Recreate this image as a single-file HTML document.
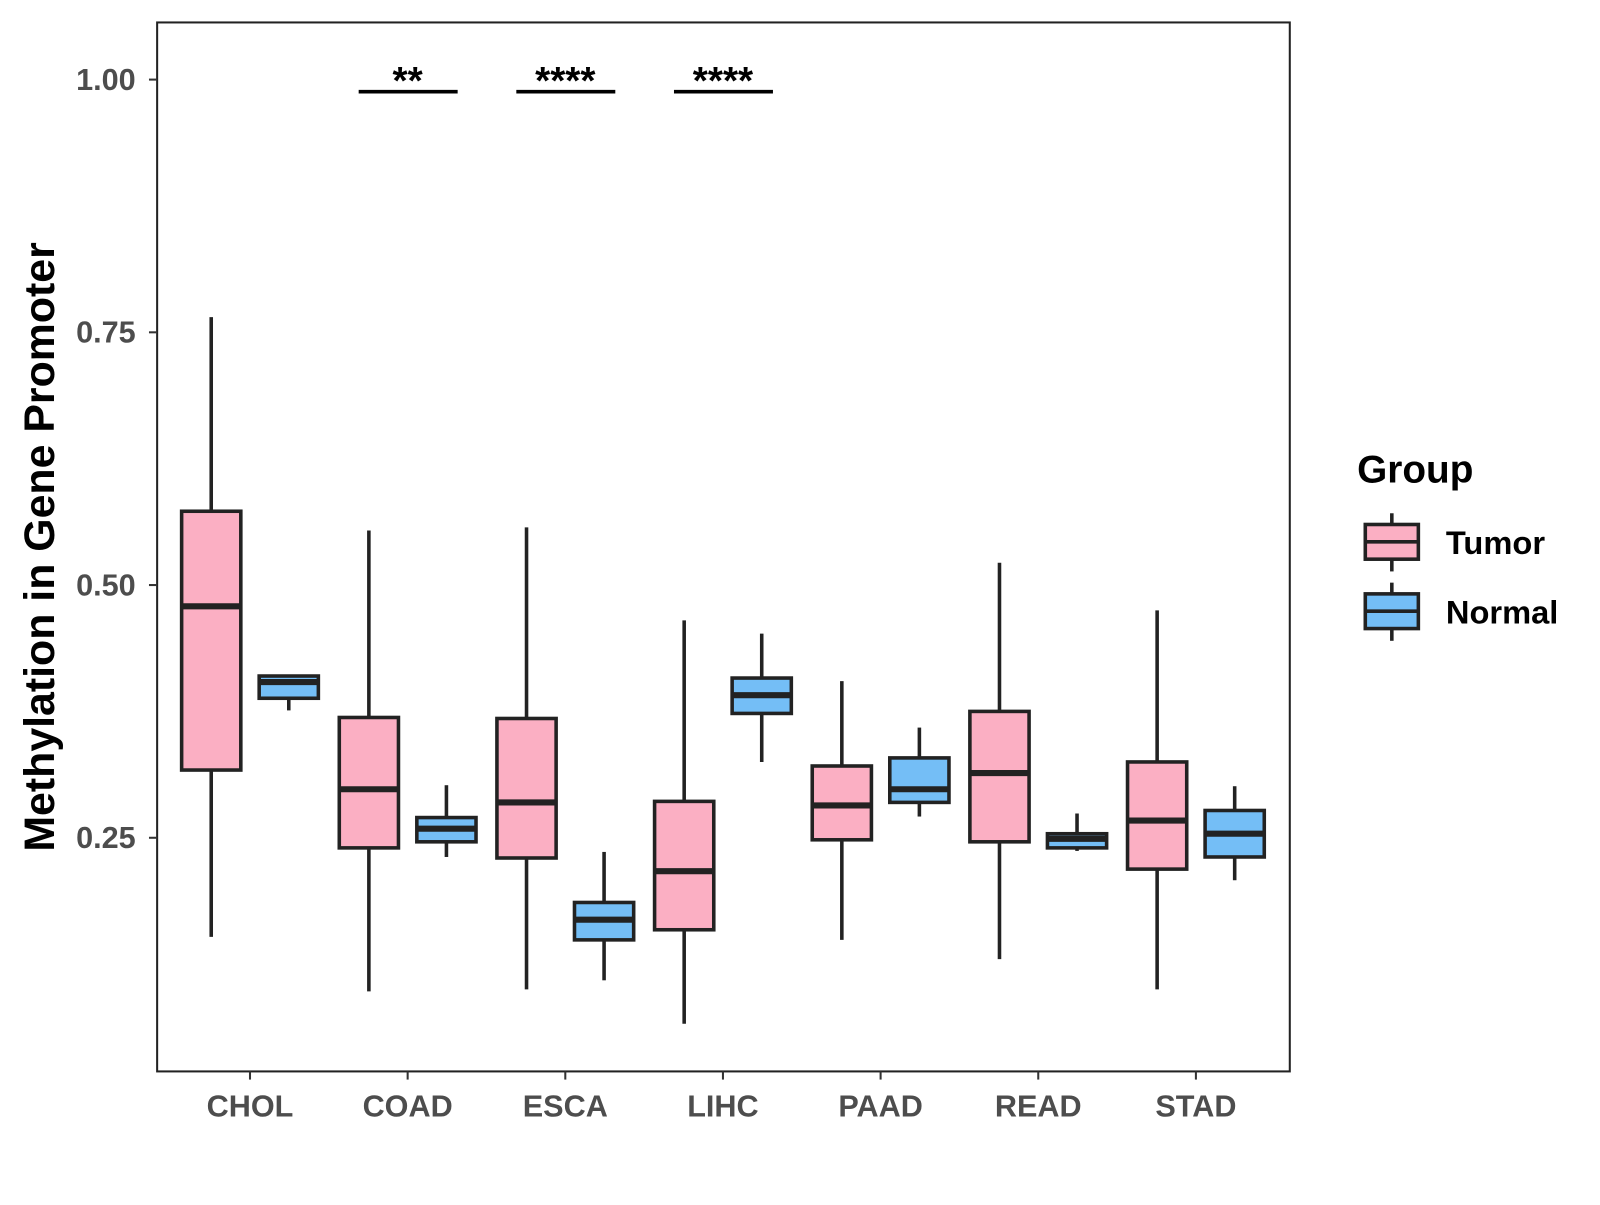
<!DOCTYPE html>
<html><head><meta charset="utf-8"><style>
body{margin:0;background:#fff}
svg text{font-family:"Liberation Sans",Arial,sans-serif;font-weight:bold}
</style></head><body>
<svg id="chart" width="1600" height="1200" viewBox="0 0 1600 1200">
<g transform="scale(1.0204)">
<rect x="154" y="22" width="1110" height="1028" fill="#fff" stroke="#222" stroke-width="2"/>
<g id="boxes"></g>
<g id="axes"></g>
<text transform="translate(53,536) rotate(-90)" text-anchor="middle" font-size="42" fill="#000">Methylation in Gene Promoter</text>
<g>
<text x="1330" y="473" font-size="38" fill="#000">Group</text>
<g>
<line x1="1364" y1="503" x2="1364" y2="560" stroke="#222" stroke-width="3.5"/>
<rect x="1338" y="514" width="52" height="34" fill="#FBAFC3" stroke="#222" stroke-width="3.5"/>
<line x1="1338" y1="531" x2="1390" y2="531" stroke="#222" stroke-width="3.5"/>
<text x="1417" y="543" font-size="32" fill="#000">Tumor</text></g>
<g>
<line x1="1364" y1="571" x2="1364" y2="628" stroke="#222" stroke-width="3.5"/>
<rect x="1338" y="582" width="52" height="34" fill="#74BEF6" stroke="#222" stroke-width="3.5"/>
<line x1="1338" y1="599" x2="1390" y2="599" stroke="#222" stroke-width="3.5"/>
<text x="1417" y="611" font-size="32" fill="#000">Normal</text></g>
</g>
</g>
</svg>
<script>
const categories=["CHOL","COAD","ESCA","LIHC","PAAD","READ","STAD"];
// [lower whisker, q1, median, q3, upper whisker]
const tumor=[[0.152,0.317,0.479,0.573,0.765],[0.098,0.240,0.298,0.369,0.554],[0.100,0.230,0.285,0.368,0.557],[0.066,0.159,0.217,0.286,0.465],[0.149,0.248,0.282,0.321,0.405],[0.130,0.246,0.314,0.375,0.522],[0.100,0.219,0.267,0.325,0.475]];
const normal=[[0.376,0.388,0.404,0.410,0.410],[0.231,0.246,0.259,0.270,0.302],[0.109,0.149,0.169,0.186,0.236],[0.325,0.373,0.391,0.408,0.452],[0.271,0.285,0.298,0.329,0.359],[0.237,0.240,0.249,0.254,0.274],[0.208,0.231,0.254,0.277,0.301]];
const yTicks=[0.25,0.5,0.75,1.0];
const yTickLabels=["0.25","0.50","0.75","1.00"];
const sigCats=["COAD","ESCA","LIHC"];
const sigLabels=["**","****","****"];
const sigY=0.988;
const NS="http://www.w3.org/2000/svg";
const y=v=>78+(1-v)*990.7;
const x=i=>245+i*154.5;
function mk(tag,attrs,parent){const e=document.createElementNS(NS,tag);for(const k in attrs)e.setAttribute(k,attrs[k]);parent.appendChild(e);return e;}
const gB=document.getElementById('boxes'),gA=document.getElementById('axes');
function box(cx,d,fill,name){
  const g=mk('g',{},gB);
  
  
  const st={stroke:'#222','stroke-width':3.5};
  mk('line',Object.assign({x1:cx,x2:cx,y1:y(d[4]),y2:y(d[3])},st),g);
  mk('line',Object.assign({x1:cx,x2:cx,y1:y(d[1]),y2:y(d[0])},st),g);
  mk('rect',Object.assign({x:cx-29,width:58,y:y(d[3]),height:y(d[1])-y(d[3]),fill:fill},st),g);
  mk('line',{x1:cx-29,x2:cx+29,y1:y(d[2]),y2:y(d[2]),stroke:'#222','stroke-width':6},g);
}
categories.forEach((c,i)=>{
  box(x(i)-38,tumor[i],'#FBAFC3','box-tumor-'+c.toLowerCase());
  box(x(i)+38,normal[i],'#74BEF6','box-normal-'+c.toLowerCase());
  mk('line',{x1:x(i),x2:x(i),y1:1050,y2:1058,stroke:'#333','stroke-width':2},gA);
  const t=mk('text',{x:x(i),y:1094,'text-anchor':'middle','font-size':30,fill:'#4d4d4d'},gA);
  t.textContent=c;
  
  
});
yTicks.forEach((v,i)=>{
  mk('line',{x1:146,x2:154,y1:y(v),y2:y(v),stroke:'#333','stroke-width':2},gA);
  const t=mk('text',{x:133,y:y(v)+10,'text-anchor':'end','font-size':30,fill:'#4d4d4d'},gA);
  t.textContent=yTickLabels[i];
  
  
});
sigCats.forEach((c,k)=>{
  const i=categories.indexOf(c);
  const g=mk('g',{},gB);
  
  
  mk('line',{x1:x(i)-48,x2:x(i)+49,y1:y(sigY),y2:y(sigY),stroke:'#000','stroke-width':3.5},g);
  const t=mk('text',{x:x(i),y:y(sigY)+2,'text-anchor':'middle','font-size':38,fill:'#000'},g);
  t.textContent=sigLabels[k];
});
</script>
</body></html>
